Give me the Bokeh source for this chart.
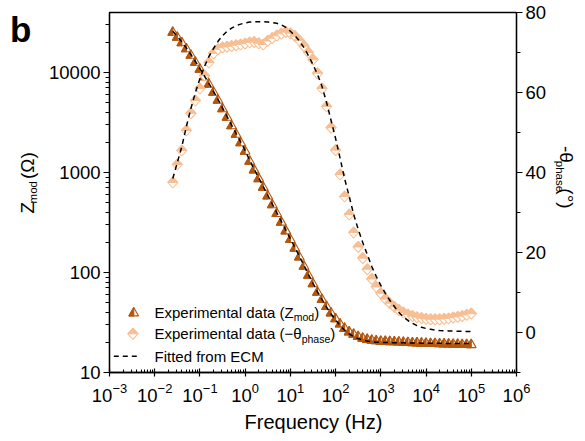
import math
from bokeh.plotting import figure
from bokeh.layouts import row, column
from bokeh.models import (Range1d, LinearAxis, FixedTicker, BasicTickFormatter,
                          LogTickFormatter, Label, ColumnDataSource, LinearScale)
from bokeh.core.properties import value
from bokeh.embed import file_html
from bokeh.resources import INLINE

# ---------------- data ----------------
freq_hz = [0.0251, 0.0316, 0.0398, 0.0501, 0.0631, 0.0794, 0.1, 0.126, 0.158, 0.2,
           0.251, 0.316, 0.398, 0.501, 0.631, 0.794, 1.0, 1.26, 1.58, 2.0,
           2.51, 3.16, 3.98, 5.01, 6.31, 7.94, 10.0, 12.6, 15.8, 20.0,
           25.1, 31.6, 39.8, 50.1, 63.1, 79.4, 100, 126, 158, 200,
           251, 316, 398, 501, 631, 794, 1000, 1259, 1585, 1995,
           2512, 3162, 3981, 5012, 6310, 7943, 10000, 12589, 15849, 19953,
           25119, 31623, 39811, 50119, 63096, 79433, 100000]

z_mod_exp = [25700, 22910, 20180, 17580, 15140, 12880, 10960, 9226, 7762, 6457,
             5370, 4416, 3631, 2985, 2455, 2018, 1660, 1318, 1079, 883,
             723, 592, 484, 396, 324, 265, 217, 178, 145, 117.5,
             95.5, 78.5, 64.6, 54.5, 46.4, 40.0, 35.0, 31.1, 28.1, 25.9,
             24.5, 23.3, 22.4, 21.8, 21.4, 21.1, 20.9, 20.8, 20.7, 20.6,
             20.5, 20.4, 20.3, 20.2, 20.1, 20.0, 19.9, 19.85, 19.8, 19.7,
             19.65, 19.6, 19.5, 19.45, 19.4, 19.35, 19.3]

z_mod_fit = [25900, 22950, 20200, 17600, 15150, 12900, 10950, 9220, 7760, 6460,
             5370, 4420, 3630, 2985, 2455, 2018, 1660, 1318, 1079, 883,
             723, 592, 484, 396, 324, 265, 217, 178, 145, 117.5,
             95.5, 78.0, 64.0, 53.5, 45.0, 38.5, 33.5, 29.5, 26.5, 24.3,
             22.8, 21.8, 21.1, 20.6, 20.3, 20.1, 20.0, 19.95, 19.9, 19.85,
             19.8, 19.8, 19.75, 19.7, 19.7, 19.65, 19.65, 19.6, 19.6, 19.6,
             19.55, 19.55, 19.55, 19.5, 19.5, 19.5, 19.5]

phase_exp = [37.5, 42.0, 45.5, 50.5, 54.8, 58.0, 61.0, 64.2, 67.5, 69.8,
             70.8, 71.2, 71.4, 71.6, 71.8, 72.0, 72.2, 72.5, 72.6, 72.3,
             72.0, 72.9, 73.6, 74.2, 74.7, 75.1, 74.8, 74.1, 73.0, 71.6,
             70.0, 68.2, 64.8, 61.0, 56.5, 51.2, 45.6, 39.5, 34.0, 29.5,
             25.0, 21.4, 18.6, 15.8, 13.4, 11.4, 9.8, 8.4, 7.3, 6.4,
             5.6, 5.0, 4.5, 4.1, 3.8, 3.6, 3.4, 3.3, 3.3, 3.3,
             3.4, 3.5, 3.7, 3.9, 4.1, 4.4, 4.7]

phase_fit = [38.5, 42.5, 46.5, 51.5, 56.0, 60.0, 63.5, 66.5, 69.0, 71.0,
             72.8, 74.2, 75.3, 76.1, 76.7, 77.1, 77.4, 77.6, 77.7, 77.7,
             77.7, 77.6, 77.5, 77.3, 76.9, 76.3, 75.3, 74.2, 72.9, 71.2,
             69.2, 67.0, 64.5, 61.5, 57.5, 53.0, 48.5, 43.5, 38.5, 34.0,
             29.5, 25.8, 22.5, 19.5, 16.5, 14.0, 11.8, 9.8, 8.0, 6.5,
             5.0, 3.9, 3.0, 2.3, 1.7, 1.3, 1.0, 0.8, 0.6, 0.5,
             0.45, 0.4, 0.35, 0.3, 0.3, 0.25, 0.25]

x_ticks = [1e-3, 1e-2, 1e-1, 1e0, 1e1, 1e2, 1e3, 1e4, 1e5, 1e6]
z_ticks = [10, 100, 1000, 10000]
phase_ticks = [0, 20, 40, 60, 80]
phase_minor = [-10, 10, 30, 50, 70]

# ---------------- layout (page pixels) ----------------
PAGE_W, PAGE_H = 577, 433
LEFT_W, RIGHT_W = 42, 28
BOTTOM_H = 23
TOP_H = PAGE_H - BOTTOM_H
FRAME_L, FRAME_T = 109, 12
FW, FH = 408, 360
MAIN_W = PAGE_W - LEFT_W - RIGHT_W
ML = FRAME_L - LEFT_W
MR = MAIN_W - ML - FW
MB = TOP_H - FRAME_T - FH

X_LO, X_HI = 1e-3, 1e6
Z_LO, Z_HI = 10.0, 10 ** 4.6
P_LO, P_HI = -10.0, 80.0
PPD_X = FW / (math.log10(X_HI) - math.log10(X_LO))
PPD_Z = FH / (math.log10(Z_HI) - math.log10(Z_LO))
PP_P = FH / (P_HI - P_LO)

BROWN = "#B4560C"
PEACH = "#F7BF93"
FONT = "Liberation Sans"

TRI = [(0, 4.8), (-4.9, -3.7), (4.9, -3.7)]
TRI_HALF = [(0, 4.8), (-4.9, -3.7), (0, -3.7)]
DIA = [(0, 5.5), (5.1, 0), (0, -5.5), (-5.1, 0)]
DIA_HALF = [(-5.1, 0), (0, 5.5), (5.1, 0)]


def log_shape(xc, yc, shape):
    return ([xc * 10 ** (dx / PPD_X) for dx, dy in shape],
            [yc * 10 ** (dy / PPD_Z) for dx, dy in shape])


def lin_shape(xc, yc, shape):
    return ([xc * 10 ** (dx / PPD_X) for dx, dy in shape],
            [yc + dy / PP_P for dx, dy in shape])


def marker_source(xvals, yvals, to_shape, full, half, color):
    xs, ys, fills = [], [], []
    for xv, yv in zip(xvals, yvals):
        a = to_shape(xv, yv, full)
        xs.append(a[0]); ys.append(a[1]); fills.append("white")
        b = to_shape(xv, yv, half)
        xs.append(b[0]); ys.append(b[1]); fills.append(color)
    return ColumnDataSource(dict(xs=xs, ys=ys, fill=fills))


def page_to_x(px):
    return 10 ** (math.log10(X_LO) + (px - FRAME_L) / PPD_X)


def page_to_z(py):
    return 10 ** (math.log10(Z_LO) + (FRAME_T + FH - py) / PPD_Z)


# ---------------- main plot ----------------
p = figure(width=MAIN_W, height=TOP_H, x_axis_type="log", y_axis_type="log",
           x_range=Range1d(X_LO, X_HI), y_range=Range1d(Z_LO, Z_HI),
           output_backend="svg", toolbar_location=None, title=None,
           min_border_left=ML, min_border_top=FRAME_T,
           min_border_right=MR, min_border_bottom=MB)
p.extra_y_ranges = {"phase": Range1d(P_LO, P_HI)}
p.extra_y_scales = {"phase": LinearScale()}
p.grid.visible = False
p.outline_line_color = "black"
p.outline_line_width = 1.3
p.background_fill_color = "white"
p.border_fill_color = "white"

xa = p.xaxis[0]
xa.ticker = FixedTicker(ticks=x_ticks,
                        minor_ticks=[m * t for t in x_ticks[:-1] for m in range(2, 10)])
xa.formatter = LogTickFormatter()
ya = p.yaxis[0]
ya.ticker = FixedTicker(ticks=z_ticks,
                        minor_ticks=[m * t for t in z_ticks for m in range(2, 10)])
ya.formatter = BasicTickFormatter(use_scientific=False)
ra = LinearAxis(y_range_name="phase",
                ticker=FixedTicker(ticks=phase_ticks, minor_ticks=phase_minor))
p.add_layout(ra, "right")

for ax in (xa, ya, ra):
    ax.axis_line_color = "black"
    ax.axis_line_width = 1.3
    ax.major_tick_line_color = "black"
    ax.minor_tick_line_color = "black"
    ax.major_tick_line_width = 1.2
    ax.minor_tick_line_width = 1.0
    ax.major_label_text_font = FONT
    ax.major_label_text_font_size = "18.5px"
    ax.major_label_text_color = "black"
xa.major_tick_in, xa.major_tick_out = 4, 4
xa.minor_tick_in, xa.minor_tick_out = 3, 0
xa.major_label_standoff = 6
ya.major_tick_in, ya.major_tick_out = 0, 6
ya.minor_tick_in, ya.minor_tick_out = 0, 4
ya.major_label_standoff = 3
ra.major_tick_in, ra.major_tick_out = 0, 6
ra.minor_tick_in, ra.minor_tick_out = 0, 4
ra.major_label_standoff = 3

tri_src = marker_source(freq_hz, z_mod_exp, log_shape, TRI, TRI_HALF, BROWN)
p.patches(xs="xs", ys="ys", fill_color="fill", line_color=BROWN, line_width=1.1,
          source=tri_src)
dia_src = marker_source(freq_hz, phase_exp, lin_shape, DIA, DIA_HALF, PEACH)
p.patches(xs="xs", ys="ys", fill_color="fill", line_color=PEACH, line_width=1.1,
          source=dia_src, y_range_name="phase")
p.line(freq_hz, z_mod_fit, line_color="black", line_width=1.5, line_dash="5 4")
p.line(freq_hz, phase_fit, line_color="black", line_width=1.5, line_dash="5 4",
       y_range_name="phase")

# legend marks
lg_tri = marker_source([page_to_x(133.3)], [page_to_z(311.7)], log_shape, TRI, TRI_HALF, BROWN)
p.patches(xs="xs", ys="ys", fill_color="fill", line_color=BROWN, line_width=1.1, source=lg_tri)
lg_dia = marker_source([page_to_x(132.5)], [page_to_z(333.3)], log_shape, DIA, DIA_HALF, PEACH)
p.patches(xs="xs", ys="ys", fill_color="fill", line_color=PEACH, line_width=1.1, source=lg_dia)
p.line([page_to_x(113.3), page_to_x(139)], [page_to_z(355.7)] * 2, line_color="black",
       line_width=1.5, line_dash="5 4")

# ---------------- text helpers (positions are text centre lines) ----------------
AW = {' ': 278, '(': 333, ')': 333, '-': 333, '\u2212': 584, 'E': 667, 'F': 611,
      'C': 722, 'H': 722, 'M': 833, 'Z': 611, 'a': 556, 'c': 500, 'd': 556, 'e': 556,
      'f': 278, 'h': 556, 'i': 222, 'l': 222, 'm': 833, 'n': 556, 'o': 556, 'p': 556,
      'q': 556, 'r': 333, 's': 500, 't': 278, 'u': 556, 'x': 500, 'y': 500, 'z': 500,
      '\u03a9': 768, '\u03b8': 556, '\u00b0': 400}


def tw(s, size):
    return sum(AW.get(ch, 556) for ch in s) * size / 1000.0


def split_lead(txt):
    stripped = txt.lstrip(" ")
    return stripped, len(txt) - len(stripped)


def legend_run(x_page, y_page, runs):
    x = x_page
    for txt, size, shift in runs:
        t, nsp = split_lead(txt)
        x += nsp * 0.278 * size
        p.add_layout(Label(x=x - LEFT_W, y=y_page + shift, x_units="canvas", y_units="canvas",
                           text=t, text_align="left", text_baseline="middle",
                           text_font=FONT, text_font_size=f"{size}px", text_color="black"))
        x += tw(t, size)


LX = 154
legend_run(LX, 311.5, [("Experimental data (Z", 15, 0), ("mod", 10.5, 5), (")", 15, 0)])
legend_run(LX, 333.3, [("Experimental data (\u2212\u03b8", 15, 0), ("phase", 10.5, 5), (")", 15, 0)])
legend_run(LX, 355.5, [("Fitted from ECM", 15, 0)])


def text_fig(w, h):
    f = figure(width=w, height=h, x_range=Range1d(0, w), y_range=Range1d(0, h),
               output_backend="svg", toolbar_location=None, title=None,
               x_axis_location=None, y_axis_location=None, min_border=0)
    f.grid.visible = False
    f.outline_line_color = None
    f.background_fill_color = "white"
    f.border_fill_color = "white"
    return f


def fig_run(f, x0_page, y0_page, h, x_page, y_page, runs, angle=0.0, style="normal"):
    c, s = math.cos(angle), math.sin(angle)
    dirx, diry = c, -s
    downx, downy = s, c
    x, y = x_page, y_page
    for txt, size, shift in runs:
        t, nsp = split_lead(txt)
        x += nsp * 0.278 * size * dirx
        y += nsp * 0.278 * size * diry
        ax, ay = x + shift * downx, y + shift * downy
        f.text(x=[ax - x0_page], y=[h - (ay - y0_page)], text=[t], angle=angle,
               text_font=value(FONT), text_font_size=value(f"{size}px"),
               text_font_style=style, text_align="left", text_baseline="middle",
               text_color="black")
        w = tw(t, size)
        x += w * dirx
        y += w * diry


# left strip: panel letter and left axis title
left = text_fig(LEFT_W, TOP_H)
fig_run(left, 0, 0, TOP_H, 9.5, 19.8, [("b", 35, 0)], style="bold")
fig_run(left, 0, 0, TOP_H, 26.5, 229, [("Z", 19, 0), ("mod", 11.5, 6), (" (\u03a9)", 19, 0)],
        angle=math.pi / 2)

# right strip: right axis title
right = text_fig(RIGHT_W, TOP_H)
fig_run(right, PAGE_W - RIGHT_W, 0, TOP_H, 566.2, 152,
        [("-\u03b8", 19, 0), ("phase", 11.5, 7), ("(\u00b0)", 19, 0)], angle=-math.pi / 2)

# bottom strip: x axis title
bottom = text_fig(PAGE_W, BOTTOM_H)
bottom.text(x=[(FRAME_L + FRAME_L + FW) / 2], y=[BOTTOM_H / 2],
            text=["Frequency (Hz)"], text_font=value(FONT), text_font_size=value("20px"),
            text_align="center", text_baseline="middle", text_color="black")

layout = column(row(left, p, right), bottom)
open("out.html", "w").write(file_html(layout, INLINE))
